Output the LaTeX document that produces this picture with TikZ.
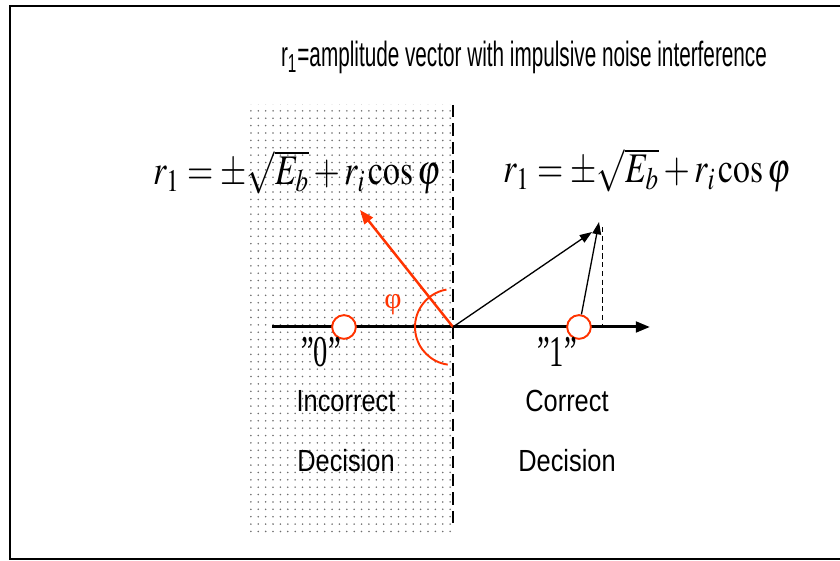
\documentclass[tikz,border=0pt]{standalone}
\usepackage{mathptmx}
\usepackage[no-math]{fontspec}
\setmainfont{Liberation Serif}
\newfontfamily\titlefont[FakeStretch=0.59]{Liberation Sans}
\newfontfamily\labelfont[FakeStretch=0.83]{Liberation Sans}
\newfontfamily\quotefont[FakeStretch=0.65]{Liberation Serif}
\usetikzlibrary{arrows.meta, patterns.meta, positioning}
\definecolor{ink}{HTML}{000000}
\definecolor{noise}{HTML}{FF3300}
\definecolor{dotgray}{HTML}{6E6E6E}
\newcommand{\squeezed}[1]{\scalebox{0.8}[1]{#1}}
\tikzset{
  panelframe/.style={draw=ink, line width=1.3pt},
  zone/.style      ={pattern={Dots[distance=4.2pt, radius=0.5pt]}, pattern color=dotgray},
  boundary/.style  ={draw=ink, line width=1.7pt, dash pattern=on 7pt off 3.5pt},
  axisline/.style  ={-{Triangle[length=8pt,width=6pt]}, line width=1.7pt, draw=ink},
  vec/.style       ={-{Triangle[length=7pt,width=5pt]}, line width=0.75pt, draw=ink},
  nvec/.style      ={-{Triangle[length=8pt,width=6pt]}, line width=1.4pt, draw=noise},
  proj/.style      ={draw=ink, line width=0.5pt, dash pattern=on 3pt off 2pt},
  symb/.style      ={circle, draw=noise, fill=white, line width=1.1pt,
                     minimum size=13.5pt, inner sep=0pt},
  eqn/.style       ={font=\fontsize{24}{28}\selectfont, inner sep=0pt, anchor=base},
  title/.style     ={font=\titlefont\fontsize{20}{24}\selectfont, inner sep=0pt, anchor=base},
  decision/.style  ={font=\labelfont\fontsize{17.4}{20}\selectfont, inner sep=0pt, anchor=base},
  bit/.style       ={font=\quotefont\fontsize{25}{28}\selectfont, inner sep=0pt, anchor=base}
}
\begin{document}
\begin{tikzpicture}[x=0.02cm, y=0.02cm]
  \useasboundingbox (0,0) rectangle (840,561);
  % frame and decision zones
  \draw[panelframe] (860,555) -- (10,555) -- (10,2) -- (860,2);
  \fill[zone] (250,26) rectangle (453,456);
  \coordinate (btop) at (453,456);
  \coordinate (bbot) at (453,38);
  \draw[boundary] (btop) -- (bbot);

  \node[title] (head) at (524,494) {r\textsubscript{1}=amplitude vector with impulsive noise interference};

  % signal space axis
  \coordinate (O) at (453,234);
  \coordinate (axl) at (272,234);
  \coordinate (axr) at (650,234);
  \draw[axisline] (axl) -- (axr);
  \node[symb] (c0) at (344,234) {};
  \node[symb] (c1) at (579,234) {};
  \node[bit] (b0) at (321,194) {”0”};
  \node[bit] (b1) at (557,194) {”1”};

  % received vectors
  \coordinate (ntip) at (360,351);
  \coordinate (rtip) at (592,329);
  \coordinate (itip) at (599,339);
  \coordinate (ptop) at (602,334);
  \coordinate (pbot) at (602,234);
  \draw[nvec] (O) -- (ntip);
  \draw[noise, line width=1.1pt] ([shift={(100:38)}]O) arc[start angle=100, end angle=262, radius=38];
  \node[font=\fontsize{17}{20}\selectfont, text=noise, inner sep=0pt] (phi) at (393,256) {φ};
  \draw[vec] (O) -- (rtip);
  \draw[vec] (c1.79) -- (itip);
  \draw[proj] (ptop) -- (pbot);

  % equations
  \node[eqn] (eql) at (297,376) {\squeezed{$r_1 = \pm\sqrt{E_b} + r_i\cos\varphi$}};
  \node[eqn] (eqr) at (647,378) {\squeezed{$r_1 = \pm\sqrt{E_b} + r_i\cos\varphi$}};

  % decision labels
  \node[decision] (inc) at (346,149) {Incorrect};
  \node[decision] (incd) at (346,89) {Decision};
  \node[decision] (cor) at (567,149) {Correct};
  \node[decision] (cord) at (567,89) {Decision};
\end{tikzpicture}
\end{document}
